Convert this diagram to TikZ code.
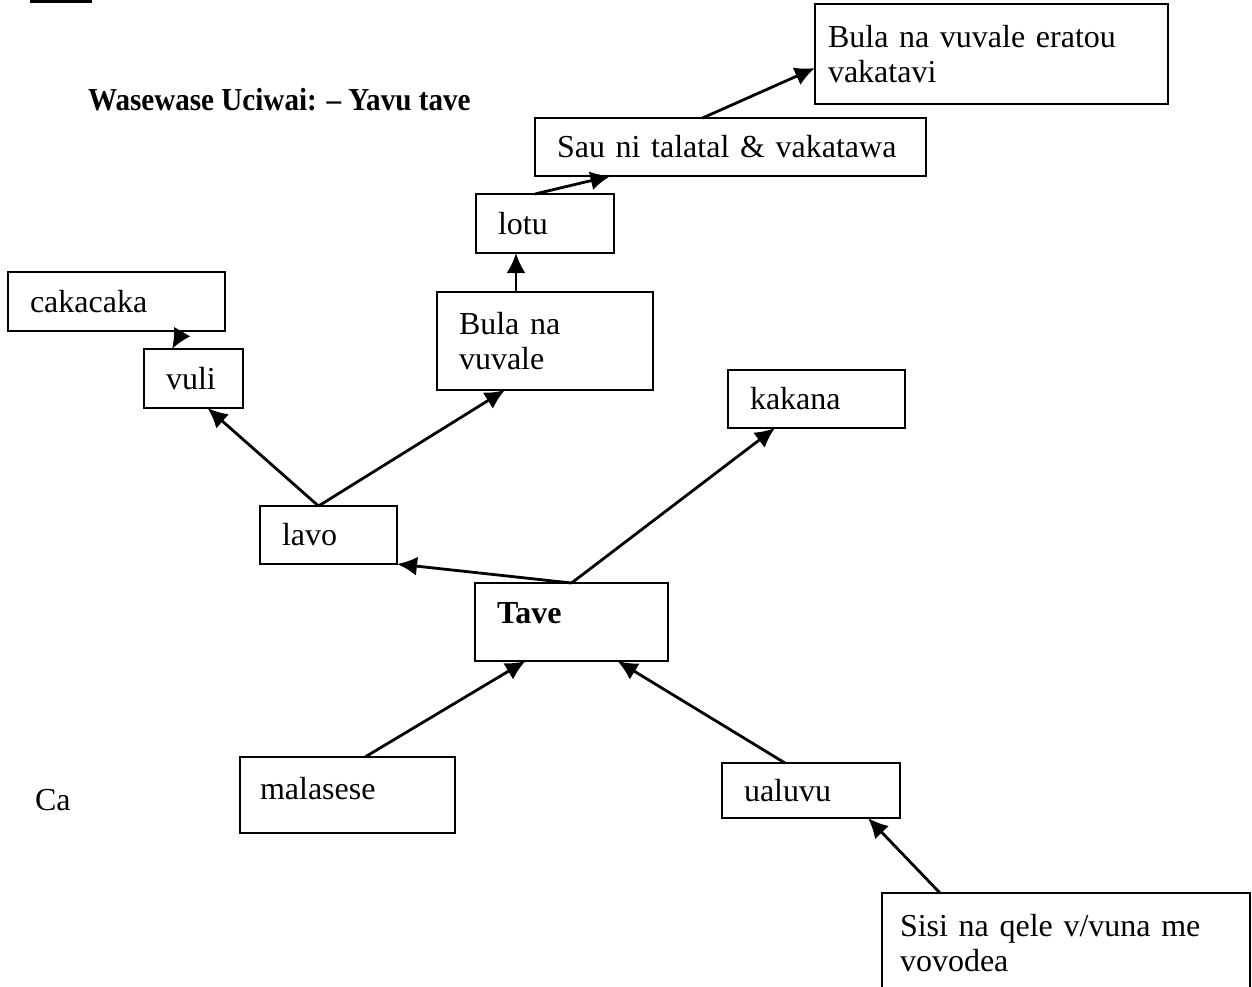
\documentclass[tikz,border=0pt]{standalone}
\usepackage{fontspec}
\usepackage{graphicx}
\setmainfont{Liberation Serif}
\usetikzlibrary{arrows.meta}

\begin{document}
\begin{tikzpicture}[x=0.5pt,y=-0.5pt,every node/.style={outer sep=0pt},
		box/.style={draw,line width=1.2pt,inner xsep=11pt,inner ysep=0pt,
			anchor=north west,font=\fontsize{16}{17.5}\selectfont},
		plain/.style={anchor=west,inner sep=0pt,font=\fontsize{16}{17.5}\selectfont},
		link/.style={line width=1.4pt,-{Latex[length=10pt,width=9.5pt]}}]
		
		\useasboundingbox (0,0) rectangle (1252,986);
		\clip (0,0) rectangle (1252,986);
		
		\draw[line width=1.5pt] (30,1) -- (92,1);
		\node[plain,font=\bfseries\fontsize{16}{17.5}\selectfont] (title) at (88,100) {\scalebox{0.91}[1]{Wasewase Uciwai: -- Yavu tave}};
		\node[plain] (ca) at (35,800) {Ca};
		
		\node[box,minimum width=176.5pt,minimum height=50pt,text width=163.5pt,inner xsep=6.5pt] (eratou) at (815,4) {Bula na vuvale eratou\\vakatavi};
		\node[box,minimum width=195.5pt,minimum height=29pt,text width=173.5pt] (sau) at (535,118) {Sau ni talatal \& vakatawa};
		\node[box,minimum width=69pt,minimum height=29.5pt,text width=47pt] (lotu) at (476,194) {lotu};
		\node[box,minimum width=108pt,minimum height=49pt,text width=86pt] (bula) at (437,292) {Bula na\\vuvale};
		\node[box,minimum width=88.5pt,minimum height=29pt,text width=66.5pt] (kakana) at (728,370) {kakana};
		\node[box,minimum width=108.5pt,minimum height=29.5pt,text width=86.5pt] (cakacaka) at (8,272) {cakacaka};
		\node[box,minimum width=49.5pt,minimum height=29.5pt,text width=27.5pt] (vuli) at (144,349) {vuli};
		\node[box,minimum width=68.5pt,minimum height=29pt,text width=46.5pt] (lavo) at (260,506) {lavo};
		\node[box,minimum width=96.5pt,minimum height=39pt,text width=74.5pt,text height=11pt,text depth=10pt] (tave) at (475,583) {\textbf{Tave}};
		\node[box,minimum width=107.5pt,minimum height=38pt,text width=87.5pt,inner xsep=10pt,text height=11pt,text depth=7pt] (malasese) at (240,757) {malasese};
		\node[box,minimum width=89pt,minimum height=27.5pt,text width=67pt] (ualuvu) at (722,763) {ualuvu};
		\node[box,minimum width=184pt,minimum height=50pt,text width=166pt,inner xsep=9pt] (sisi) at (882,893) {Sisi na qele v/vuna me\\vovodea};
		
		\draw[link] (tave.north) -- (lavo.south east);
		\draw[link] (tave.north) -- ([xshift=-20.75pt]kakana.south);
		\draw[link] ([xshift=-5pt]lavo.north) -- ([xshift=7pt]vuli.south);
		\draw[link] ([xshift=-5pt]lavo.north) -- ([xshift=-20pt]bula.south);
		\draw[link] ([xshift=-14.5pt]bula.north) -- ([xshift=-14.5pt]lotu.south);
		\draw[link] ([xshift=-5pt]lotu.north) -- ([xshift=-60pt]sau.south);
		\draw[link] ([xshift=-14pt]sau.north) -- ([yshift=-7pt]eratou.west);
		\draw[link] ([xshift=33pt]cakacaka.south) -- ([xshift=-10.75pt]vuli.north);
		
		\draw[link] ([xshift=8.75pt]malasese.north) -- ([xshift=-23pt]tave.south);
		\draw[link] ([xshift=-13pt]ualuvu.north) -- ([xshift=23pt]tave.south);
		\draw[link] ([xshift=-63pt]sisi.north) -- ([xshift=28.5pt]ualuvu.south);
		
	\end{tikzpicture}
\end{document}
